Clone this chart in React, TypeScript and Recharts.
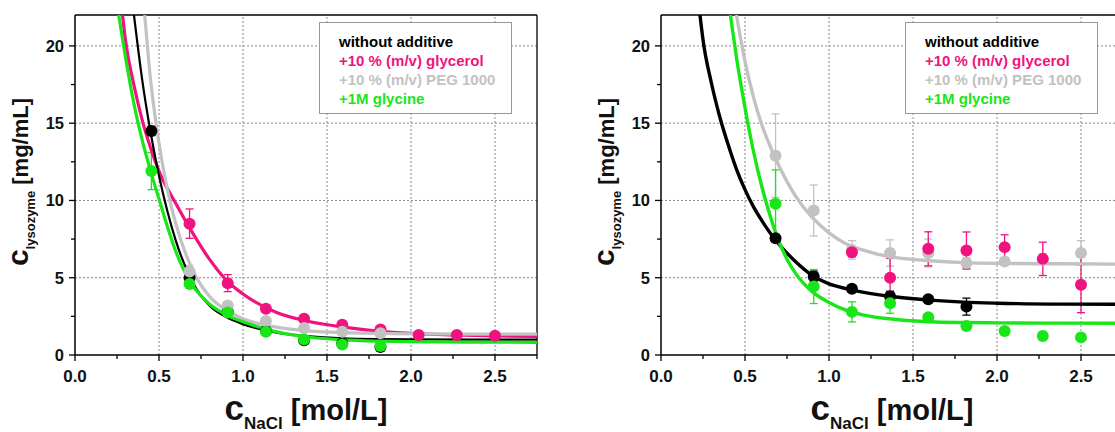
import React from "react";
import { ComposedChart, Line, Scatter, XAxis, YAxis, ReferenceLine, ErrorBar, Legend } from "recharts";

// NaCl concentrations of the measured points [mol/L]
const NACL = [0.4545, 0.6818, 0.9091, 1.1364, 1.3636, 1.5909, 1.8182, 2.0455, 2.2727, 2.5];

// left panel – measured solubilities [mg/mL]
const L_NONE = [14.5, 5.0, 2.8, 1.55, 0.95, 0.75, 0.52, null, null, null];
const L_NONE_ERR = [0.3, 0.3, 0.2, 0.1, 0.1, 0.1, 0.1, 0, 0, 0];
const L_GLYCEROL = [null, 8.5, 4.65, 3.0, 2.35, 1.95, 1.65, 1.3, 1.3, 1.25];
const L_GLYCEROL_ERR = [0, 0.95, 0.55, 0.2, 0.2, 0.15, 0.15, 0.1, 0.1, 0.1];
const L_PEG = [null, 5.4, 3.2, 2.2, 1.75, 1.5, 1.4, null, null, null];
const L_PEG_ERR = [0, 0.4, 0.2, 0.1, 0.1, 0.1, 0.1, 0, 0, 0];
const L_GLYCINE = [11.9, 4.6, 2.75, 1.5, 1.0, 0.68, 0.58, null, null, null];
const L_GLYCINE_ERR = [1.2, 0.2, 0.2, 0.1, 0.1, 0.1, 0.1, 0, 0, 0];

// right panel – measured solubilities [mg/mL]
const R_NONE = [null, 7.56, 5.08, 4.28, 3.78, 3.6, 3.13, null, null, null];
const R_NONE_ERR = [0, 0.2, 0.35, 0.2, 0.35, 0.2, 0.55, 0, 0, 0];
const R_GLYCEROL = [null, null, null, 6.65, 5.0, 6.87, 6.76, 6.98, 6.22, 4.54];
const R_GLYCEROL_ERR = [0, 0, 0, 0.3, 1.25, 1.1, 1.2, 0.8, 1.08, 1.8];
const R_PEG = [null, 12.9, 9.35, 6.8, 6.6, 6.6, 5.95, 6.05, 6.2, 6.6];
const R_PEG_ERR = [0, 2.7, 1.65, 0.6, 0.85, 0.9, 0.35, 0.25, 0.35, 0.8];
const R_GLYCINE = [null, 9.78, 4.43, 2.79, 3.35, 2.44, 1.88, 1.55, 1.23, 1.14];
const R_GLYCINE_ERR = [0, 2.2, 1.1, 0.65, 0.65, 0.1, 0.1, 0.1, 0.1, 0.1];

// fitted curves
const FIT_L_NONE_X = [0.351, 0.4, 0.45, 0.5, 0.55, 0.6, 0.7, 0.8, 0.9, 1.0, 1.2, 1.4, 1.6, 1.8, 2.0, 2.4, 2.75];
const FIT_L_NONE_Y = [22, 17.8, 14.4, 11.6, 9.3, 7.4, 4.7, 3.2, 2.45, 2.0, 1.45, 1.2, 1.08, 1.03, 1.01, 1.0, 1.0];
const FIT_L_GLYCEROL_X = [0.283, 0.3, 0.35, 0.4, 0.45, 0.5, 0.6, 0.7, 0.8, 0.9, 1.0, 1.2, 1.4, 1.6, 1.8, 2.0, 2.25, 2.5, 2.75];
const FIT_L_GLYCEROL_Y = [22, 20.4, 17.5, 15.2, 13.4, 11.9, 9.8, 7.9, 6.2, 4.85, 3.95, 2.75, 2.15, 1.8, 1.55, 1.4, 1.3, 1.24, 1.2];
const FIT_L_PEG_X = [0.415, 0.45, 0.5, 0.55, 0.6, 0.7, 0.8, 0.9, 1.0, 1.2, 1.4, 1.6, 1.8, 2.0, 2.4, 2.75];
const FIT_L_PEG_Y = [22, 17.8, 13.7, 10.7, 8.5, 5.5, 3.8, 2.9, 2.35, 1.8, 1.55, 1.45, 1.4, 1.37, 1.35, 1.35];
const FIT_L_GLYCINE_X = [0.26, 0.3, 0.35, 0.4, 0.45, 0.5, 0.55, 0.6, 0.7, 0.8, 0.9, 1.0, 1.2, 1.4, 1.6, 1.8, 2.0, 2.4, 2.75];
const FIT_L_GLYCINE_Y = [22, 19.3, 16.3, 13.9, 11.9, 10.1, 8.3, 6.7, 4.5, 3.3, 2.6, 2.15, 1.5, 1.15, 0.98, 0.9, 0.86, 0.83, 0.82];

const FIT_R_NONE_X = [0.232, 0.25, 0.3, 0.35, 0.4, 0.45, 0.5, 0.55, 0.6, 0.675, 0.7, 0.8, 0.9, 1.0, 1.1, 1.2, 1.4, 1.6, 1.8, 2.0, 2.4, 2.75];
const FIT_R_NONE_Y = [22, 20.4, 17.6, 15.4, 13.6, 12.0, 10.7, 9.6, 8.7, 7.53, 7.2, 6.05, 5.15, 4.6, 4.3, 4.07, 3.75, 3.55, 3.42, 3.35, 3.29, 3.28];
const FIT_R_PEG_X = [0.449, 0.5, 0.55, 0.6, 0.65, 0.7, 0.8, 0.9, 1.0, 1.1, 1.2, 1.3, 1.4, 1.6, 1.8, 2.0, 2.4, 2.75];
const FIT_R_PEG_Y = [22, 19.0, 16.7, 14.9, 13.5, 12.3, 10.3, 8.9, 7.9, 7.2, 6.8, 6.5, 6.3, 6.1, 5.98, 5.93, 5.9, 5.88];
const FIT_R_GLYCINE_X = [0.413, 0.45, 0.5, 0.55, 0.6, 0.65, 0.7, 0.75, 0.8, 0.9, 1.0, 1.1, 1.2, 1.4, 1.6, 1.8, 2.0, 2.4, 2.75];
const FIT_R_GLYCINE_Y = [22, 19.2, 16.0, 13.2, 10.9, 9.0, 7.4, 6.2, 5.3, 4.1, 3.4, 2.9, 2.6, 2.3, 2.15, 2.1, 2.08, 2.06, 2.05];

const LEGEND_LABELS = ["without additive", "+10 % (m/v) glycerol", "+10 % (m/v) PEG 1000", "+1M glycine"];

const X_TICKS = [0, 0.25, 0.5, 0.75, 1, 1.25, 1.5, 1.75, 2, 2.25, 2.5, 2.75];
const Y_TICKS = [0, 2.5, 5, 7.5, 10, 12.5, 15, 17.5, 20];
const GRID_X = [0.5, 1, 1.5, 2, 2.5];
const GRID_Y = [5, 10, 15, 20];

const FONT = "'Liberation Sans', Arial, Helvetica, sans-serif";
const BLACK = "#000000";
const MAGENTA = "#f0137f";
const GRAY = "#c2c2c2";
const GREEN = "#19e619";
const COLORS = [BLACK, MAGENTA, GRAY, GREEN];

function pts(ys: (number | null)[], errs: number[]) {
  return NACL.map((x, i) => ({ x, y: ys[i], err: errs[i] })).filter((d) => d.y != null);
}
function curve(xs: number[], ys: number[]) {
  return xs.map((x, i) => ({ x, y: ys[i] }));
}

function XTick(props: any) {
  const { x, y, payload } = props;
  const v = payload.value;
  const major = Math.abs(v * 2 - Math.round(v * 2)) < 1e-6;
  return (
    <g>
      <line x1={x} x2={x} y1={y} y2={y + (major ? 6 : 4)} stroke="#000" strokeWidth={1.3} />
      {major && (
        <text x={x} y={y + 27} textAnchor="middle" fontFamily={FONT} fontWeight="bold" fontSize={17} fill="#111">
          {v.toFixed(1)}
        </text>
      )}
    </g>
  );
}

function YTick(props: any) {
  const { x, y, payload } = props;
  const v = payload.value;
  const major = v % 5 === 0;
  return (
    <g>
      <line x1={x - (major ? 6 : 4)} x2={x} y1={y} y2={y} stroke="#000" strokeWidth={1.3} />
      {major && (
        <text x={x - 11} y={y + 6} textAnchor="end" fontFamily={FONT} fontWeight="bold" fontSize={16.5} fill="#111">
          {v}
        </text>
      )}
    </g>
  );
}

function XTitle(props: any) {
  const vb = props.viewBox || { x: 75, width: 462 };
  const cx = vb.x + vb.width / 2;
  return (
    <text x={cx} y={420} textAnchor="middle" fontFamily={FONT} fontWeight="bold" fill="#111">
      <tspan fontSize={35}>c</tspan>
      <tspan fontSize={17} dy={9}>NaCl</tspan>
      <tspan fontSize={29} dy={-9}>{"\u00a0[mol/L]"}</tspan>
    </text>
  );
}

function YTitle() {
  return (
    <text transform="translate(28, 182) rotate(-90)" textAnchor="middle" fontFamily={FONT} fontWeight="bold" fill="#111">
      <tspan fontSize={30}>c</tspan>
      <tspan fontSize={13} dy={7}>lysozyme</tspan>
      <tspan fontSize={22} dy={-7}>{"\u00a0[mg/mL]"}</tspan>
    </text>
  );
}

function LegendBox() {
  return (
    <div
      style={{
        boxSizing: "border-box",
        width: 193,
        height: 92,
        border: "1px solid #999",
        background: "#fff",
        padding: "9px 0 0 19px",
        fontFamily: FONT,
        fontWeight: "bold",
        fontSize: 15,
        lineHeight: "19px",
        textAlign: "left",
      }}
    >
      {LEGEND_LABELS.map((t, i) => (
        <div key={t} style={{ color: COLORS[i], whiteSpace: "nowrap" }}>
          {t}
        </div>
      ))}
    </div>
  );
}

type Pts = { data: { x: number; y: number | null; err: number }[]; color: string };
type Fit = { data: { x: number; y: number }[]; color: string; width: number };

function Panel({ points, fits }: { points: Pts[]; fits: Fit[] }) {
  return (
    <ComposedChart width={560} height={432} margin={{ top: 15, right: 23, bottom: 0, left: 0 }}>
      <XAxis
        type="number"
        dataKey="x"
        domain={[0, 2.75]}
        ticks={X_TICKS}
        interval={0}
        height={77}
        allowDataOverflow
        tickLine={false}
        tickSize={0}
        tickMargin={0}
        tick={<XTick />}
        axisLine={{ stroke: "#000", strokeWidth: 1.5 }}
        label={<XTitle />}
      />
      <YAxis
        type="number"
        domain={[0, 22]}
        ticks={Y_TICKS}
        interval={0}
        width={75}
        allowDataOverflow
        tickLine={false}
        tickSize={0}
        tickMargin={0}
        tick={<YTick />}
        axisLine={{ stroke: "#000", strokeWidth: 1.5 }}
        label={<YTitle />}
      />
      {GRID_X.map((v) => (
        <ReferenceLine key={"gx" + v} x={v} stroke="#8a8a8a" strokeDasharray="2 2" strokeWidth={1} />
      ))}
      {GRID_Y.map((v) => (
        <ReferenceLine key={"gy" + v} y={v} stroke="#8a8a8a" strokeDasharray="2 2" strokeWidth={1} />
      ))}
      <ReferenceLine y={22} stroke="#000" strokeWidth={1.3} />
      <ReferenceLine x={2.75} stroke="#000" strokeWidth={1.3} />
      {points.map((s, i) => (
        <Scatter
          key={"s" + i}
          data={s.data}
          dataKey="y"
          fill={s.color}
          isAnimationActive={false}
          shape={(p: any) => <circle cx={p.cx} cy={p.cy} r={6} fill={s.color} />}
        >
          <ErrorBar dataKey="err" direction="y" width={4} stroke={s.color} strokeWidth={1.3} />
        </Scatter>
      ))}
      {fits.map((f, i) => (
        <Line
          key={"f" + i}
          data={f.data}
          dataKey="y"
          type="monotone"
          stroke={f.color}
          strokeWidth={f.width}
          dot={false}
          activeDot={false}
          isAnimationActive={false}
        />
      ))}
      <Legend
        content={<LegendBox />}
        layout="horizontal"
        verticalAlign="middle"
        align="center"
        wrapperStyle={{ position: "absolute", left: 319, top: 22, width: 193, height: 92 }}
      />
    </ComposedChart>
  );
}

export default function App() {
  const left = {
    points: [
      { data: pts(L_NONE, L_NONE_ERR), color: BLACK },
      { data: pts(L_GLYCEROL, L_GLYCEROL_ERR), color: MAGENTA },
      { data: pts(L_PEG, L_PEG_ERR), color: GRAY },
      { data: pts(L_GLYCINE, L_GLYCINE_ERR), color: GREEN },
    ],
    fits: [
      { data: curve(FIT_L_GLYCEROL_X, FIT_L_GLYCEROL_Y), color: MAGENTA, width: 3.2 },
      { data: curve(FIT_L_PEG_X, FIT_L_PEG_Y), color: GRAY, width: 3.2 },
      { data: curve(FIT_L_NONE_X, FIT_L_NONE_Y), color: BLACK, width: 2.2 },
      { data: curve(FIT_L_GLYCINE_X, FIT_L_GLYCINE_Y), color: GREEN, width: 3.2 },
    ],
  };
  const right = {
    points: [
      { data: pts(R_NONE, R_NONE_ERR), color: BLACK },
      { data: pts(R_PEG, R_PEG_ERR), color: GRAY },
      { data: pts(R_GLYCEROL, R_GLYCEROL_ERR), color: MAGENTA },
      { data: pts(R_GLYCINE, R_GLYCINE_ERR), color: GREEN },
    ],
    fits: [
      { data: curve(FIT_R_PEG_X, FIT_R_PEG_Y), color: GRAY, width: 3.4 },
      { data: curve(FIT_R_NONE_X, FIT_R_NONE_Y), color: BLACK, width: 3.4 },
      { data: curve(FIT_R_GLYCINE_X, FIT_R_GLYCINE_Y), color: GREEN, width: 3.4 },
    ],
  };
  return (
    <div style={{ position: "absolute", left: 0, top: 0, width: 1115, height: 432, overflow: "hidden", background: "#fff" }}>
      <div style={{ position: "absolute", left: 0, top: 0 }}>
        <Panel points={left.points} fits={left.fits} />
      </div>
      <div style={{ position: "absolute", left: 586, top: 0 }}>
        <Panel points={right.points} fits={right.fits} />
      </div>
    </div>
  );
}
